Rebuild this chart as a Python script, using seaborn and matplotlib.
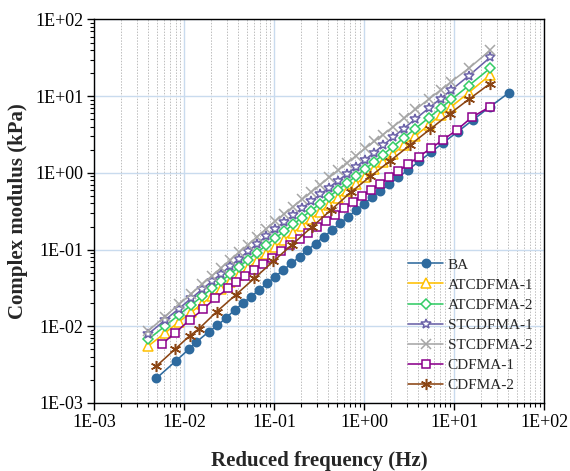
import numpy as np
import pandas as pd
import matplotlib
matplotlib.use("Agg")
import matplotlib.pyplot as plt
import matplotlib.ticker as mticker
import seaborn as sns

# ---------------- data ----------------
freq_common = [0.00398, 0.00603, 0.00871, 0.0120, 0.0158, 0.0204, 0.0257, 0.0324, 0.0407,
               0.0513, 0.0646, 0.0813, 0.102, 0.129, 0.162, 0.204, 0.257, 0.324, 0.407,
               0.513, 0.646, 0.813, 1.02, 1.29, 1.62, 2.09, 2.75, 3.72, 5.25, 7.08, 9.33,
               14.5, 25.1]

freq_ba = [0.0049, 0.00813, 0.0112, 0.0135, 0.0186, 0.0234, 0.0288, 0.0363, 0.0447, 0.0550,
           0.0676, 0.0832, 0.102, 0.126, 0.155, 0.191, 0.234, 0.288, 0.355, 0.437, 0.537,
           0.661, 0.813, 1.00, 1.23, 1.51, 1.91, 2.40, 3.09, 4.07, 5.50, 7.59, 11.0, 16.2,
           25.1, 40.7]
mod_ba = [2.10e-3, 3.56e-3, 5.01e-3, 6.18e-3, 8.43e-3, 1.03e-2, 1.27e-2, 1.63e-2, 1.99e-2,
          2.43e-2, 2.96e-2, 3.62e-2, 4.43e-2, 5.41e-2, 6.59e-2, 8.05e-2, 9.84e-2, 0.120,
          0.147, 0.179, 0.219, 0.267, 0.326, 0.398, 0.480, 0.578, 0.713, 0.877, 1.10, 1.41,
          1.85, 2.48, 3.45, 4.91, 7.29, 11.1]

mod_at1 = [5.53e-3, 8.09e-3, 1.14e-2, 1.53e-2, 1.97e-2, 2.48e-2, 3.07e-2, 3.79e-2, 4.69e-2,
           5.79e-2, 7.16e-2, 8.85e-2, 0.109, 0.135, 0.166, 0.205, 0.253, 0.312, 0.385, 0.474,
           0.585, 0.721, 0.891, 1.11, 1.38, 1.76, 2.29, 3.05, 4.24, 5.64, 7.33, 11.1, 18.9]

mod_at2 = [6.76e-3, 9.95e-3, 1.41e-2, 1.90e-2, 2.46e-2, 3.12e-2, 3.87e-2, 4.80e-2, 5.96e-2,
           7.40e-2, 9.16e-2, 0.114, 0.141, 0.173, 0.213, 0.262, 0.323, 0.397, 0.489, 0.601,
           0.740, 0.910, 1.12, 1.39, 1.73, 2.20, 2.86, 3.79, 5.26, 6.98, 9.06, 13.7, 23.1]

mod_st1 = [7.94e-3, 1.19e-2, 1.70e-2, 2.32e-2, 3.04e-2, 3.89e-2, 4.86e-2, 6.08e-2, 7.60e-2,
           9.51e-2, 0.119, 0.149, 0.186, 0.229, 0.281, 0.346, 0.426, 0.524, 0.644, 0.793,
           0.975, 1.20, 1.48, 1.84, 2.29, 2.92, 3.79, 5.05, 7.01, 9.33, 12.1, 18.4, 32.0]

mod_st2 = [8.71e-3, 1.33e-2, 1.93e-2, 2.67e-2, 3.54e-2, 4.57e-2, 5.77e-2, 7.29e-2, 9.20e-2,
           0.116, 0.147, 0.186, 0.234, 0.292, 0.363, 0.452, 0.562, 0.700, 0.871, 1.08, 1.35,
           1.67, 2.08, 2.57, 3.16, 3.98, 5.12, 6.71, 9.18, 12.05, 15.5, 23.0, 39.5]

freq_c1 = [0.00562, 0.00794, 0.0115, 0.0162, 0.0219, 0.0309, 0.0380, 0.0479, 0.0603, 0.0759,
           0.0955, 0.120, 0.151, 0.191, 0.240, 0.302, 0.380, 0.479, 0.603, 0.759, 0.955,
           1.20, 1.51, 1.91, 2.40, 3.09, 4.07, 5.50, 7.59, 10.7, 15.7, 25.1]
mod_c1 = [5.82e-3, 8.24e-3, 1.21e-2, 1.66e-2, 2.32e-2, 3.13e-2, 3.77e-2, 4.53e-2, 5.45e-2,
          6.55e-2, 7.87e-2, 9.46e-2, 0.114, 0.137, 0.164, 0.198, 0.238, 0.286, 0.344, 0.413,
          0.497, 0.597, 0.721, 0.873, 1.05, 1.30, 1.63, 2.09, 2.72, 3.62, 5.31, 7.29]

freq_c2 = [0.0049, 0.00794, 0.0115, 0.0145, 0.0229, 0.0372, 0.0603, 0.0977, 0.158, 0.263,
           0.427, 0.708, 1.17, 1.95, 3.24, 5.37, 8.91, 14.8, 25.1]
mod_c2 = [3.03e-3, 5.06e-3, 7.53e-3, 9.23e-3, 1.55e-2, 2.56e-2, 4.24e-2, 7.03e-2, 0.116,
          0.198, 0.328, 0.557, 0.899, 1.44, 2.31, 3.69, 5.89, 9.23, 14.6]

x_ticks = [1e-3, 1e-2, 1e-1, 1e0, 1e1, 1e2]
y_ticks = [1e-3, 1e-2, 1e-1, 1e0, 1e1, 1e2]

series = [
    ("BA", freq_ba, mod_ba, "#2E6A9E", "o", True, 6.0),
    ("ATCDFMA-1", freq_common, mod_at1, "#FFC000", "^", False, 6.5),
    ("ATCDFMA-2", freq_common, mod_at2, "#33CC66", "D", False, 5.5),
    ("STCDFMA-1", freq_common, mod_st1, "#6B62A8", "*", False, 7.5),
    ("STCDFMA-2", freq_common, mod_st2, "#A6A6A6", "x", False, 6.5),
    ("CDFMA-1", freq_c1, mod_c1, "#8B008B", "s", False, 5.5),
    ("CDFMA-2", freq_c2, mod_c2, "#8B4513", (6, 2, 0), False, 8),
]

# ---------------- style ----------------
sns.set_theme(style="ticks")
plt.rcParams["font.family"] = ["Liberation Serif", "DejaVu Serif"]
plt.rcParams["mathtext.fontset"] = "stix"

fig = plt.figure(figsize=(5.70, 4.71), dpi=100)
ax = fig.add_axes([0.1655, 0.1444, 0.789, 0.8142])

for name, fx, fy, col, mk, filled, ms in series:
    df = pd.DataFrame({"f": fx, "g": fy})
    sns.lineplot(data=df, x="f", y="g", ax=ax, color=col, marker=mk, markersize=ms,
                 markerfacecolor=col if filled else "white",
                 markeredgecolor=col, markeredgewidth=1.1,
                 linewidth=1.15, label=name, sort=False, estimator=None)

ax.set_xscale("log")
ax.set_yscale("log")
ax.set_xlim(1e-3, 1e2)
ax.set_ylim(1e-3, 1e2)

fmt = mticker.FuncFormatter(lambda v, p: "1E{:+03d}".format(int(round(np.log10(v)))))
ax.xaxis.set_major_locator(mticker.FixedLocator(x_ticks))
ax.yaxis.set_major_locator(mticker.FixedLocator(y_ticks))
ax.xaxis.set_major_formatter(fmt)
ax.yaxis.set_major_formatter(fmt)
ax.xaxis.set_minor_locator(mticker.LogLocator(base=10, subs=np.arange(2, 10), numticks=20))
ax.yaxis.set_minor_locator(mticker.LogLocator(base=10, subs=np.arange(2, 10), numticks=20))
ax.xaxis.set_minor_formatter(mticker.NullFormatter())
ax.yaxis.set_minor_formatter(mticker.NullFormatter())

ax.grid(False)
ax.grid(which="major", axis="both", color="#C9DBEE", linewidth=1.0, zorder=0)
ax.grid(which="minor", axis="x", color="#BDBDBD", linestyle=(0, (1.5, 1.5)), linewidth=0.7, zorder=0)
ax.set_axisbelow(True)

ax.tick_params(which="major", direction="out", length=5, width=1, labelsize=13,
               colors="black", pad=3)
ax.tick_params(which="minor", direction="out", length=3, width=0.8, colors="black")
for s in ax.spines.values():
    s.set_color("black")
    s.set_linewidth(1.0)
    s.set_visible(True)

ax.set_xlabel("Reduced frequency (Hz)", fontsize=15, fontweight="bold", labelpad=14)
ax.set_ylabel("Complex modulus (kPa)", fontsize=15, fontweight="bold", labelpad=5)

leg = ax.legend(loc="lower right", bbox_to_anchor=(1.0, 0.0), frameon=False,
                fontsize=11, handlelength=2.3, labelspacing=0.42, handletextpad=0.3,
                borderaxespad=0.3)

fig.savefig("out.png", dpi=100)
